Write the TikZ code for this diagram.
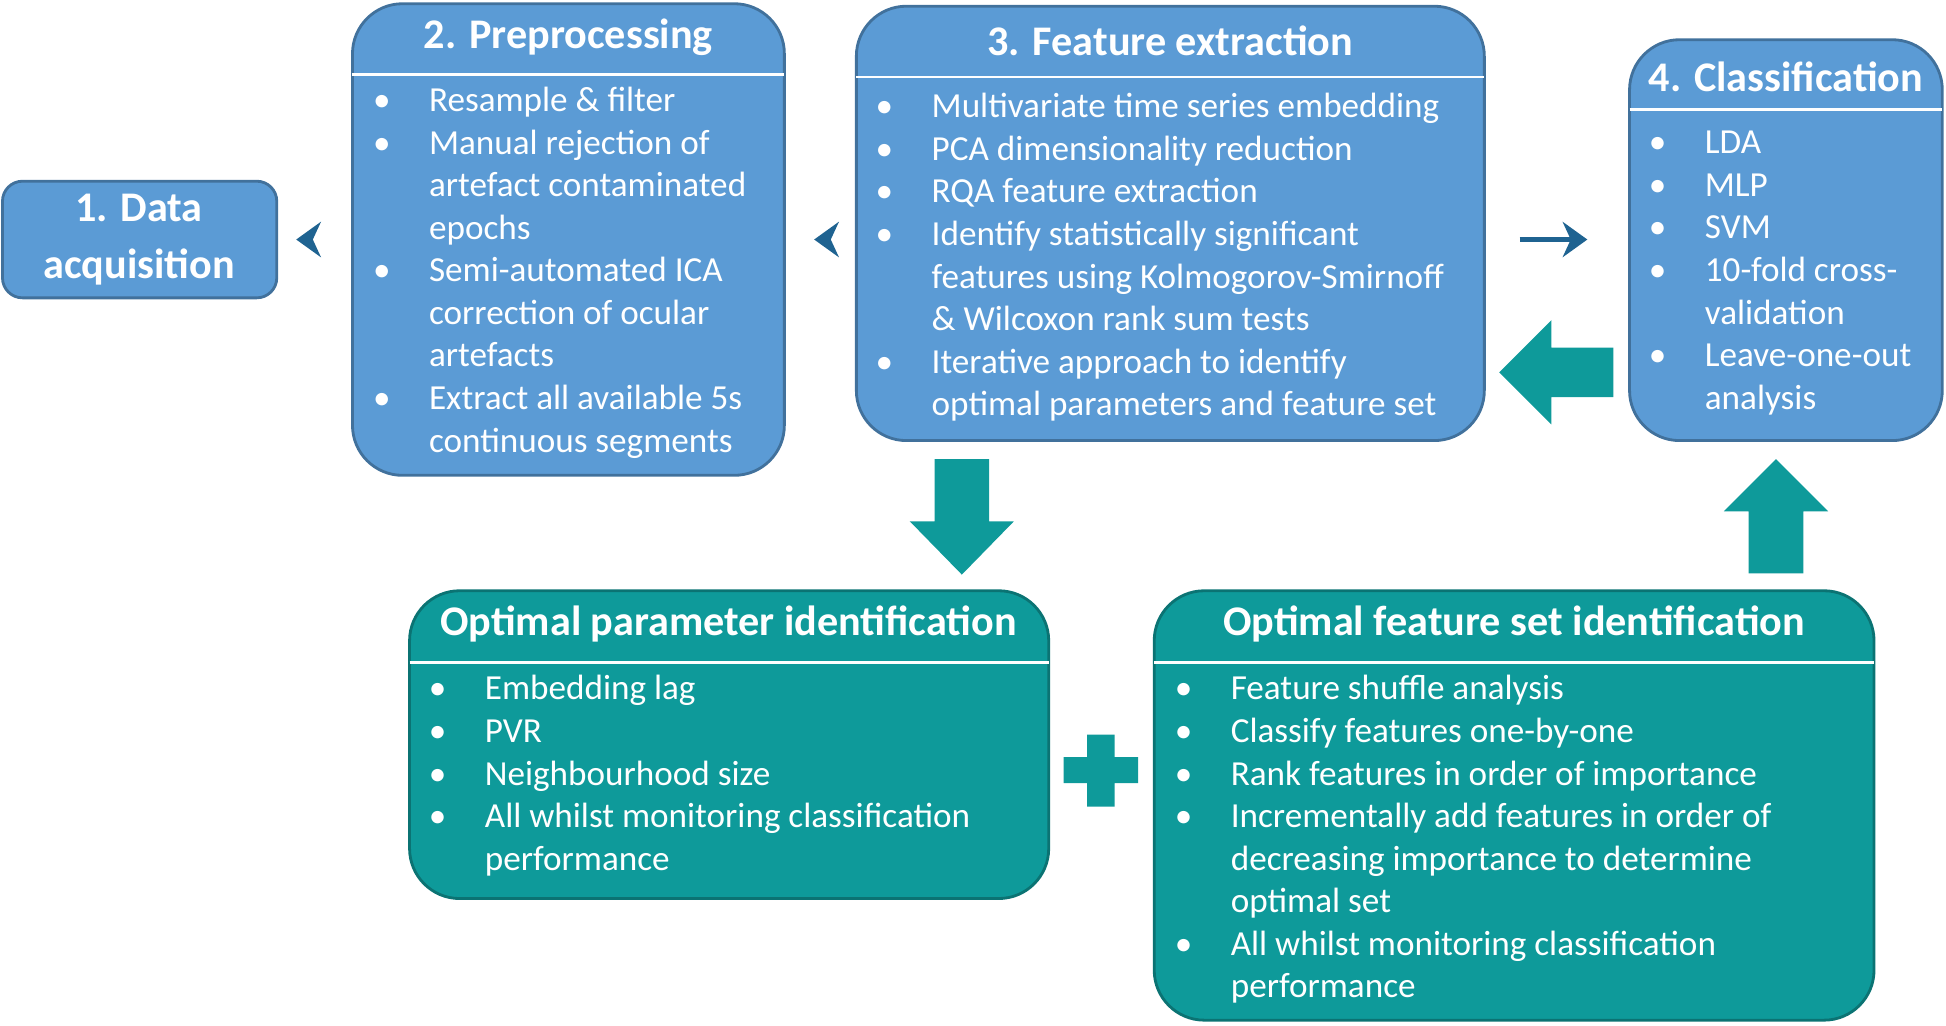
\documentclass[tikz,border=0pt]{standalone}
\usepackage{fontspec}
\setmainfont{Carlito}
\usetikzlibrary{arrows.meta,positioning}
\definecolor{boxblue}{HTML}{5B9BD5}
\definecolor{lineblue}{HTML}{41719C}
\definecolor{arrowblue}{HTML}{1F6391}
\definecolor{teal}{HTML}{0E9A9A}
\definecolor{tealline}{HTML}{0B7373}
\tikzset{
  stage/.style={draw=lineblue, fill=boxblue, line width=0.8pt, rounded corners=0.5cm},
  optim/.style={draw=tealline, fill=teal, line width=0.8pt, rounded corners=0.5cm},
  head/.style={text=white, font=\fontsize{12}{14}\selectfont\bfseries},
  items/.style={text=white, anchor=base west, inner sep=0pt,
    font=\fontsize{10}{12.1}\selectfont},
  link/.style={draw=arrowblue, line width=1.6pt, -{Stealth[length=7pt,width=10pt]}},
  big/.style={fill=teal, draw=none}
}
\newcommand{\bl}{\makebox[0.56cm][l]{\textbullet}}
\begin{document}
\begin{tikzpicture}[x=0.01241cm, y=-0.01241cm]
\useasboundingbox (0,0) rectangle (1568,826);
% stage boxes
\draw[stage, rounded corners=0.2cm] (2,146) rectangle (223,240);
\node[head, align=center] (acq) at (112,193) {1. Data\\[2pt]acquisition};
\coordinate (acqE) at (223,193);
\draw[stage] (284,3) rectangle (632,383);
\draw[white, line width=0.8pt] (284,60) -- (632,60);
\node[head] (pre) at (458,30) {2. Preprocessing};
\coordinate (preW) at (284,193); \coordinate (preE) at (632,193);
\node[items] at (300,90) {\begin{tabular}[t]{@{}l@{}l@{}}
\bl&Resample \& filter\\
\bl&Manual rejection of\\ &artefact contaminated\\ &epochs\\
\bl&Semi-automated ICA\\ &correction of ocular\\ &artefacts\\
\bl&Extract all available 5s\\ &continuous segments
\end{tabular}};
\draw[stage] (690,5) rectangle (1196,355);
\draw[white, line width=0.8pt] (690,62) -- (1196,62);
\node[head] (feat) at (943,33) {3. Feature extraction};
\coordinate (featW) at (690,193); \coordinate (featE) at (1196,193);
\node[items] at (705,95) {\begin{tabular}[t]{@{}l@{}l@{}}
\bl&Multivariate time series embedding\\
\bl&PCA dimensionality reduction\\
\bl&RQA feature extraction\\
\bl&Identify statistically significant\\ &features using Kolmogorov-Smirnoff\\ &\& Wilcoxon rank sum tests\\
\bl&Iterative approach to identify\\ &optimal parameters and feature set
\end{tabular}};
\draw[stage] (1313,32) rectangle (1565,355);
\draw[white, line width=0.8pt] (1313,88) -- (1565,88);
\node[head] (cls) at (1439,62) {4. Classification};
\coordinate (clsW) at (1313,193);
\node[items] at (1328,124) {\begin{tabular}[t]{@{}l@{}l@{}}
\bl&LDA\\
\bl&MLP\\
\bl&SVM\\
\bl&10-fold cross-\\ &validation\\
\bl&Leave-one-out\\ &analysis
\end{tabular}};
% optimisation boxes
\draw[optim] (330,476) rectangle (845,724);
\draw[white, line width=0.8pt] (330,534) -- (845,534);
\node[head] (par) at (587,503) {Optimal parameter identification};
\node[items] at (345,564) {\begin{tabular}[t]{@{}l@{}l@{}}
\bl&Embedding lag\\
\bl&PVR\\
\bl&Neighbourhood size\\
\bl&All whilst monitoring classification\\ &performance
\end{tabular}};
\draw[optim] (930,476) rectangle (1510,822);
\draw[white, line width=0.8pt] (930,534) -- (1510,534);
\node[head] (fset) at (1220,503) {Optimal feature set identification};
\node[items] at (946,564) {\begin{tabular}[t]{@{}l@{}l@{}}
\bl&Feature shuffle analysis\\
\bl&Classify features one-by-one\\
\bl&Rank features in order of importance\\
\bl&Incrementally add features in order of\\ &decreasing importance to determine\\ &optimal set\\
\bl&All whilst monitoring classification\\ &performance
\end{tabular}};
% connectors
\draw[link] ([xshift=10]acqE) -- ([xshift=-16]preW);
\draw[link] ([xshift=12]preE) -- ([xshift=-12]featW);
\draw[link] ([xshift=10]featE) -- ([xshift=-12]clsW);
% big arrows
\fill[big] (1300,280) -- (1250,280) -- (1250,258) -- (1208,300) -- (1250,342) -- (1250,320) -- (1300,320) -- cycle;
\fill[big] (753,370) -- (797,370) -- (797,420) -- (817,420) -- (775,463) -- (733,420) -- (753,420) -- cycle;
\fill[big] (1409,462) -- (1453,462) -- (1453,412) -- (1473,412) -- (1431,370) -- (1389,412) -- (1409,412) -- cycle;
\fill[big] (876,592) -- (898,592) -- (898,610) -- (917,610) -- (917,631) -- (898,631) -- (898,650) -- (876,650) -- (876,631) -- (857,631) -- (857,610) -- (876,610) -- cycle;
\end{tikzpicture}
\end{document}
